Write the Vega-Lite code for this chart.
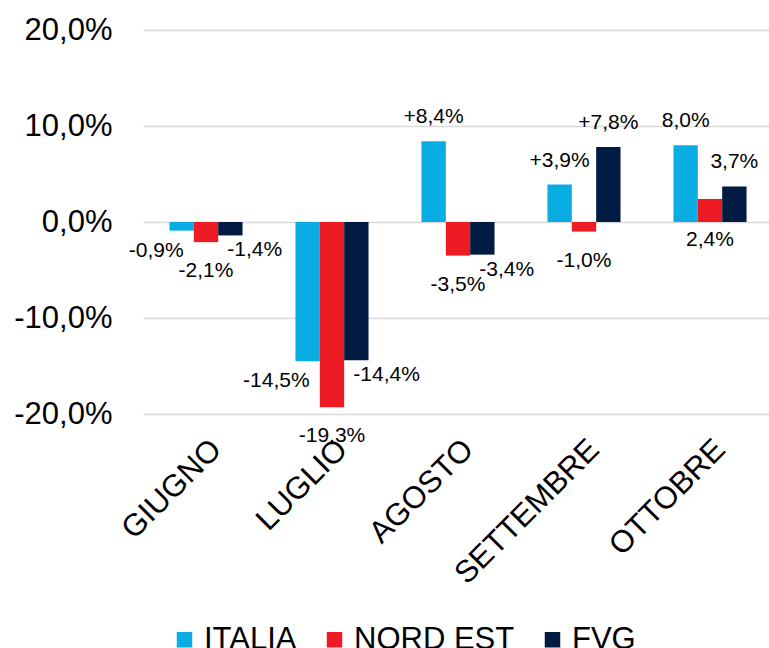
{
  "$schema": "https://vega.github.io/schema/vega-lite/v6.json",
  "autosize": "none",
  "padding": {"left": 143, "top": 30, "right": 0, "bottom": 234},
  "width": 630,
  "height": 384,
  "background": "white",
  "config": {
    "font": "Liberation Sans",
    "view": {"stroke": null},
    "text": {"font": "Liberation Sans"}
  },
  "data": {
    "values": [
      {"mese": "GIUGNO", "serie": "ITALIA", "valore": -0.9, "etichetta": "-0,9%"},
      {"mese": "GIUGNO", "serie": "NORD EST", "valore": -2.1, "etichetta": "-2,1%"},
      {"mese": "GIUGNO", "serie": "FVG", "valore": -1.4, "etichetta": "-1,4%"},
      {"mese": "LUGLIO", "serie": "ITALIA", "valore": -14.5, "etichetta": "-14,5%"},
      {"mese": "LUGLIO", "serie": "NORD EST", "valore": -19.3, "etichetta": "-19,3%"},
      {"mese": "LUGLIO", "serie": "FVG", "valore": -14.4, "etichetta": "-14,4%"},
      {"mese": "AGOSTO", "serie": "ITALIA", "valore": 8.4, "etichetta": "+8,4%"},
      {"mese": "AGOSTO", "serie": "NORD EST", "valore": -3.5, "etichetta": "-3,5%"},
      {"mese": "AGOSTO", "serie": "FVG", "valore": -3.4, "etichetta": "-3,4%"},
      {"mese": "SETTEMBRE", "serie": "ITALIA", "valore": 3.9, "etichetta": "+3,9%"},
      {"mese": "SETTEMBRE", "serie": "NORD EST", "valore": -1.0, "etichetta": "-1,0%"},
      {"mese": "SETTEMBRE", "serie": "FVG", "valore": 7.8, "etichetta": "+7,8%"},
      {"mese": "OTTOBRE", "serie": "ITALIA", "valore": 8.0, "etichetta": "8,0%"},
      {"mese": "OTTOBRE", "serie": "NORD EST", "valore": 2.4, "etichetta": "2,4%"},
      {"mese": "OTTOBRE", "serie": "FVG", "valore": 3.7, "etichetta": "3,7%"}
    ]
  },
  "encoding": {
    "x": {
      "field": "mese",
      "type": "nominal",
      "sort": ["GIUGNO", "LUGLIO", "AGOSTO", "SETTEMBRE", "OTTOBRE"],
      "scale": {"paddingInner": 0.42, "paddingOuter": 0.21},
      "axis": {
        "title": null,
        "labelAngle": -45,
        "labelAlign": "right",
        "labelBaseline": "top",
        "labelFontSize": 31,
        "labelColor": "#000000",
        "labelPadding": 20,
        "labelLimit": 0,
        "labelOverlap": false,
        "domain": false,
        "ticks": false
      }
    },
    "xOffset": {
      "field": "serie",
      "type": "nominal",
      "sort": ["ITALIA", "NORD EST", "FVG"],
      "scale": {"paddingInner": 0, "paddingOuter": 0}
    },
    "y": {
      "field": "valore",
      "type": "quantitative",
      "scale": {"domain": [-20, 20], "nice": false, "zero": false},
      "axis": {
        "title": null,
        "values": [-20, -10, 0, 10, 20],
        "labelExpr": "replace(replace(format(datum.value, '.1f'), '.', ','), '\u2212', '-') + '%'",
        "labelFontSize": 31,
        "labelColor": "#000000",
        "labelPadding": 31,
        "labelLimit": 0,
        "grid": true,
        "gridColor": "#D9D9D9",
        "gridWidth": 1.3,
        "domain": false,
        "ticks": false
      }
    }
  },
  "layer": [
    {
      "mark": {"type": "bar"},
      "encoding": {
        "color": {
          "field": "serie",
          "type": "nominal",
          "sort": ["ITALIA", "NORD EST", "FVG"],
          "scale": {"domain": ["ITALIA", "NORD EST", "FVG"], "range": ["#0AADE3", "#ED1C24", "#021B42"]},
          "legend": {
            "title": null,
            "orient": "none",
            "direction": "horizontal",
            "legendX": 26,
            "legendY": 594,
            "padding": 0,
            "symbolType": "square",
            "symbolSize": 240,
            "symbolStrokeWidth": 0,
            "labelFontSize": 31,
            "labelColor": "#000000",
            "labelOffset": 4,
            "labelLimit": 0,
            "columnPadding": 22
          }
        },
        "y2": {"datum": 0}
      }
    },
    {
      "transform": [{"filter": "datum.valore > 0 && datum.serie != 'NORD EST'"}],
      "mark": {"type": "text", "fontSize": 21, "baseline": "middle", "align": "center", "dy": -24, "color": "#000000"},
      "encoding": {"text": {"field": "etichetta"}}
    },
    {
      "transform": [{"filter": "datum.valore > 0 && datum.serie == 'NORD EST'"}],
      "mark": {"type": "text", "fontSize": 21, "baseline": "middle", "align": "center", "dy": 18, "color": "#000000"},
      "encoding": {"text": {"field": "etichetta"}, "y": {"datum": 0}}
    },
    {
      "transform": [{"filter": "datum.valore < 0 && datum.serie == 'ITALIA'"}],
      "mark": {"type": "text", "fontSize": 21, "baseline": "middle", "align": "right", "dx": 2, "dy": 20, "color": "#000000"},
      "encoding": {"text": {"field": "etichetta"}}
    },
    {
      "transform": [{"filter": "datum.valore < 0 && datum.serie == 'NORD EST'"}],
      "mark": {"type": "text", "fontSize": 21, "baseline": "middle", "align": "center", "dy": 29, "color": "#000000"},
      "encoding": {"text": {"field": "etichetta"}}
    },
    {
      "transform": [{"filter": "datum.valore < 0 && datum.serie == 'FVG'"}],
      "mark": {"type": "text", "fontSize": 21, "baseline": "middle", "align": "left", "dx": -3, "dy": 15, "color": "#000000"},
      "encoding": {"text": {"field": "etichetta"}}
    }
  ]
}
